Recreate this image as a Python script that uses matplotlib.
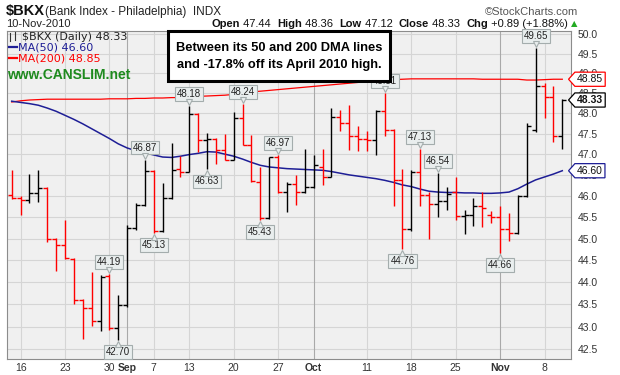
import numpy as np
import matplotlib
matplotlib.use("Agg")
import matplotlib.pyplot as plt
from matplotlib import transforms
from matplotlib.patches import Rectangle
from matplotlib.path import Path
from matplotlib.ticker import NullLocator

# daily OHLC for $BKX, 13-Aug-2010 .. 10-Nov-2010
opens = [46.03, 45.96, 45.90, 46.07, 46.18, 45.00, 44.85, 44.53, 43.59, 43.41,
         43.12, 44.14, 42.98, 43.49, 45.24, 45.79, 46.60, 45.17, 45.95, 46.63,
         46.58, 47.98, 47.34, 47.37, 47.10, 46.87, 47.89, 47.22, 46.34, 45.48,
         46.92, 46.08, 46.28, 46.08, 46.21, 46.69, 46.46, 47.91, 47.76, 47.44,
         47.36, 47.34, 48.06, 47.59, 46.37, 45.23, 46.58, 46.02, 45.81, 45.88,
         46.09, 45.53, 45.56, 45.75, 45.55, 45.51, 45.23, 45.12, 46.00, 47.59,
         48.69, 48.40, 47.44]
highs = [46.61, 46.00, 46.53, 46.62, 46.20, 45.02, 45.44, 44.56, 43.62, 44.24,
         44.15, 44.19, 43.71, 45.32, 45.83, 46.87, 46.62, 46.30, 47.27, 46.95,
         48.18, 48.00, 47.52, 47.40, 47.49, 48.03, 48.24, 47.47, 46.69, 46.93,
         46.97, 46.34, 46.49, 47.12, 46.99, 47.12, 48.12, 48.09, 48.20, 47.68,
         47.57, 48.09, 48.51, 47.62, 46.65, 46.62, 47.13, 46.09, 46.54, 46.21,
         46.45, 45.67, 45.95, 46.09, 45.65, 45.75, 45.60, 46.02, 47.76, 49.65,
         48.75, 48.69, 48.36]
lows = [45.92, 45.55, 45.84, 45.86, 44.93, 44.26, 44.53, 43.50, 42.72, 43.01,
        42.91, 42.93, 42.70, 43.45, 45.20, 45.75, 45.13, 45.14, 45.93, 46.46,
        46.56, 47.05, 46.63, 46.77, 46.85, 46.85, 47.21, 46.33, 45.43, 45.45,
        46.06, 45.63, 45.79, 46.06, 46.19, 46.27, 46.44, 47.57, 47.10, 47.08,
        47.08, 46.97, 47.45, 45.75, 44.76, 45.17, 45.77, 45.00, 45.50, 45.67,
        45.42, 45.10, 45.29, 45.26, 45.36, 44.66, 44.94, 45.10, 45.98, 47.55,
        47.89, 47.30, 47.12]
closes = [45.96, 45.91, 46.07, 46.19, 45.00, 44.85, 44.56, 43.59, 43.41, 43.12,
          44.12, 42.98, 43.48, 45.24, 45.79, 46.60, 45.17, 45.95, 46.62, 46.58,
          47.98, 47.34, 47.37, 47.10, 46.87, 47.89, 47.23, 46.36, 45.48, 46.92,
          46.08, 46.28, 46.08, 46.21, 46.73, 46.46, 47.91, 47.76, 47.44, 47.36,
          47.34, 48.06, 47.59, 46.37, 45.23, 46.58, 46.02, 45.81, 45.88, 46.05,
          45.53, 45.56, 45.75, 45.72, 45.51, 45.23, 45.12, 46.00, 47.68, 48.69,
          48.40, 47.44, 48.33]
prior_close = 46.20

ma50 = [48.30, 48.27, 48.24, 48.20, 48.13, 48.05, 47.95, 47.85, 47.74, 47.62,
        47.50, 47.38, 47.25, 47.15, 47.08, 47.03, 46.98, 46.93, 46.92, 46.95,
        46.99, 47.02, 47.06, 47.05, 47.00, 46.95, 46.88, 46.80, 46.73, 46.69,
        46.67, 46.65, 46.64, 46.63, 46.62, 46.61, 46.58, 46.54, 46.50, 46.47,
        46.44, 46.41, 46.37, 46.32, 46.26, 46.22, 46.16, 46.11, 46.09, 46.08,
        46.08, 46.07, 46.07, 46.06, 46.06, 46.07, 46.09, 46.17, 46.28, 46.38,
        46.45, 46.52, 46.60]
ma200 = [48.28, 48.31, 48.33, 48.34, 48.35, 48.35, 48.35, 48.35, 48.35, 48.35,
         48.35, 48.36, 48.36, 48.36, 48.37, 48.37, 48.38, 48.38, 48.39, 48.39,
         48.40, 48.42, 48.43, 48.44, 48.45, 48.47, 48.50, 48.53, 48.55, 48.57,
         48.59, 48.61, 48.63, 48.65, 48.67, 48.69, 48.71, 48.73, 48.75, 48.77,
         48.79, 48.81, 48.83, 48.84, 48.85, 48.86, 48.86, 48.86, 48.86, 48.86,
         48.86, 48.86, 48.86, 48.85, 48.85, 48.85, 48.85, 48.85, 48.83, 48.83,
         48.84, 48.85, 48.85]

tick_idx = [1, 6, 11, 13, 16, 20, 25, 30, 34, 40, 45, 50, 55, 60]
tick_lbl = ["16", "23", "30", "Sep", "7", "13", "20", "27", "Oct", "11", "18", "25", "Nov", "8"]
month_lbl = ["Sep", "Oct", "Nov"]
price_ticks = [42.5, 43.0, 43.5, 44.0, 44.5, 45.0, 45.5, 46.0, 46.5, 47.0, 47.5, 48.0, 48.5, 49.0, 49.5, 50.0]

hi_marks = [11, 15, 20, 26, 30, 42, 46, 48, 59]
lo_marks = [12, 16, 22, 28, 44, 55]

header = [("Open", "bold"), (" 47.44  ", "normal"), ("High", "bold"), (" 48.36  ", "normal"),
          ("Low", "bold"), (" 47.12  ", "normal"), ("Close", "bold"), (" 48.33  ", "normal"),
          ("Chg", "bold"), (" +0.89 (+1.88%) ", "normal")]

plt.rcParams["font.family"] = ["Liberation Sans", "DejaVu Sans"]

W, H = 620, 375
fig = plt.figure(figsize=(W / 100, H / 100), dpi=100)


def fx(x):
    return x / W


def fy(y):
    return 1 - y / H


ax = fig.add_axes([fx(7), fy(359), (571 - 7) / W, (359 - 31) / H])
ax.set_facecolor("#f0f0f0")
ax.set_yscale("log")
ax.set_ylim(42.29, 50.08)
ax.set_xlim(-0.53, 62.98)

for v in price_ticks:
    ax.axhline(v, color="#d5d5d5", lw=0.8, zorder=0)
for i, lbl in zip(tick_idx, tick_lbl):
    ax.axvline(i, color="#a9a9a9" if lbl in month_lbl else "#d5d5d5", lw=0.8, zorder=0)

ax.set_yticks(price_ticks)
ax.set_yticklabels([f"{v:.1f}" for v in price_ticks])
ax.yaxis.set_minor_locator(NullLocator())
ax.yaxis.tick_right()
ax.tick_params(axis="y", length=0, pad=5, labelsize=7.5, labelcolor="#333333")
ax.set_xticks(tick_idx)
ax.set_xticklabels(tick_lbl)
ax.tick_params(axis="x", length=0, pad=3, labelsize=7.5, labelcolor="#333333")
for t in ax.get_xticklabels():
    if t.get_text() in month_lbl:
        t.set_fontweight("bold")
for s in ax.spines.values():
    s.set_color("#8c8c8c")
    s.set_linewidth(0.8)

# moving averages
x = np.arange(len(closes))
ax.plot(x, ma200, color="#ff0000", lw=0.9, zorder=2)
ax.plot(x, ma50, color="#1e1e96", lw=1.1, zorder=2)

# OHLC bars, red when close is below prior close
o, h, l, c = map(np.array, (opens, highs, lows, closes))
prev = np.r_[prior_close, c[:-1]]
cols = np.where(c < prev, "#ff0000", "#000000")
ax.vlines(x, l, h, colors=cols, lw=1.0, zorder=3)
ax.hlines(o, x - 0.45, x, colors=cols, lw=1.0, zorder=3)
ax.hlines(c, x, x + 0.45, colors=cols, lw=1.0, zorder=3)


def shifted(dy):
    return ax.transData + transforms.ScaledTranslation(0, dy / 100, fig.dpi_scale_trans)


lbl_box = dict(boxstyle="square,pad=0.2", fc="#e9eeee", ec="#a4adad", lw=0.8)
for i in hi_marks:
    ax.text(i, h[i], f"{h[i]:.2f}", transform=shifted(12), ha="center", va="center",
            fontsize=7, color="#222222", bbox=lbl_box, zorder=6)
    ax.plot(i, h[i], marker="v", ms=5, mfc="#e9eeee", mec="#a4adad", mew=0.8,
            transform=shifted(4), zorder=7)
for i in lo_marks:
    ax.text(i, l[i], f"{l[i]:.2f}", transform=shifted(-12), ha="center", va="center",
            fontsize=7, color="#222222", bbox=lbl_box, zorder=6)
    ax.plot(i, l[i], marker="^", ms=5, mfc="#e9eeee", mec="#a4adad", mew=0.8,
            transform=shifted(-4), zorder=7)


def tag_box(x0, y0, width, height, mutation_size):
    pad = 0.2 * mutation_size
    x0, y0 = x0 - pad, y0 - pad
    width, height = width + 2 * pad, height + 2 * pad
    tip = height * 0.45
    verts = [(x0 - tip, y0 + height / 2), (x0, y0), (x0 + width, y0),
             (x0 + width, y0 + height), (x0, y0 + height), (x0 - tip, y0 + height / 2)]
    return Path(verts, closed=True)


# last-value tags on the price axis (they cover the tick labels, as in the original)
side = transforms.blended_transform_factory(ax.transAxes, ax.transData)
for val, ec, bold in [(ma200[-1], "#ff0000", False), (closes[-1], "#000000", True), (ma50[-1], "#1e1e96", False)]:
    ax.text(1.0, val, f"{val:.2f}", transform=side + transforms.ScaledTranslation(0.06, 0, fig.dpi_scale_trans),
            ha="left", va="center", fontsize=7.5, fontweight="bold" if bold else "normal",
            color="#111111", clip_on=False, zorder=10,
            bbox=dict(boxstyle=tag_box, fc="white", ec=ec, lw=0.9))

# header
fig.text(fx(6), fy(11), "$BKX", fontsize=10.5, fontweight="bold", va="center", color="#111111")
fig.text(fx(45), fy(12), "(Bank Index - Philadelphia)  INDX", fontsize=8.5, va="center", color="#222222")
fig.text(fx(578), fy(12), "\u00a9StockCharts.com", fontsize=8, va="center", ha="right", color="#555555")
fig.text(fx(6), fy(24), "10-Nov-2010", fontsize=8, va="center", color="#222222")

last = None
for txt, wt in header:
    if last is None:
        last = fig.text(fx(212), fy(24), txt, fontsize=8, fontweight=wt, va="center", color="#111111")
    else:
        last = ax.annotate(txt, xy=(1, 0), xycoords=last, va="bottom", ha="left",
                           fontsize=8, fontweight=wt, color="#111111", annotation_clip=False)
ax.annotate("\u25b2", xy=(1, 0.1), xycoords=last, va="bottom", ha="left", fontsize=6,
            color="#22aa22", annotation_clip=False, family="DejaVu Sans")

# in-chart legend
fig.text(fx(22), fy(37), "$BKX (Daily) 48.33", fontsize=8, va="center", color="#222222", family="DejaVu Sans")
fig.add_artist(plt.Line2D([fx(10), fx(10)], [fy(33), fy(41)], color="#333333", lw=0.8))
fig.add_artist(plt.Line2D([fx(15), fx(15)], [fy(32), fy(40)], color="#333333", lw=0.8))
fig.add_artist(plt.Line2D([fx(9), fx(17)], [fy(47), fy(47)], color="#1e1e96", lw=1.6))
fig.text(fx(18), fy(47.5), f"MA(50) {ma50[-1]:.2f}", fontsize=8, va="center", color="#1e1e96", family="DejaVu Sans")
fig.add_artist(plt.Line2D([fx(9), fx(17)], [fy(58), fy(58)], color="#ff0000", lw=1.6))
fig.text(fx(18), fy(58.5), f"MA(200) {ma200[-1]:.2f}", fontsize=8, va="center", color="#ff0000", family="DejaVu Sans")
fig.text(fx(7), fy(75), "www.CANSLIM.net", fontsize=10, fontweight="bold", va="center", color="#1e8a1e")

# comment box
fig.patches.append(Rectangle((fx(168), fy(81)), (390 - 168) / W, (81 - 31) / H, transform=fig.transFigure,
                             fc="white", ec="black", lw=2.2, zorder=20))
fig.text(fx(279), fy(48), "Between its 50 and 200 DMA lines", fontsize=9.3, fontweight="bold",
         ha="center", va="center", zorder=21)
fig.text(fx(279), fy(65), "and -17.8% off its April 2010 high.", fontsize=9.3, fontweight="bold",
         ha="center", va="center", zorder=21)

fig.savefig("out.png", dpi=100)
